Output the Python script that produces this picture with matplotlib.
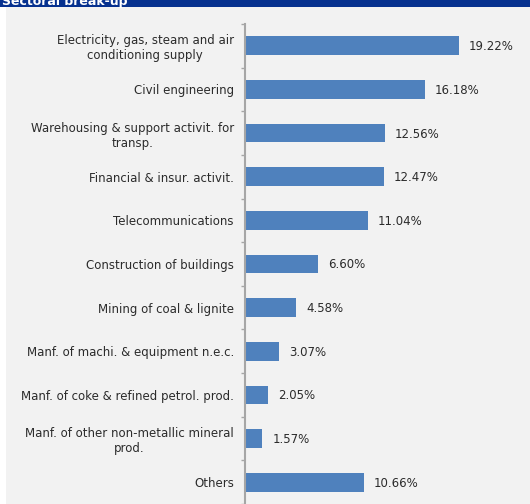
import matplotlib
matplotlib.use("Agg")
import matplotlib.pyplot as plt
from matplotlib.patches import Rectangle

sectors = [
    "Electricity, gas, steam and air\nconditioning supply",
    "Civil engineering",
    "Warehousing & support activit. for\ntransp.",
    "Financial & insur. activit.",
    "Telecommunications",
    "Construction of buildings",
    "Mining of coal & lignite",
    "Manf. of machi. & equipment n.e.c.",
    "Manf. of coke & refined petrol. prod.",
    "Manf. of other non-metallic mineral\nprod.",
    "Others",
]
shares = [19.22, 16.18, 12.56, 12.47, 11.04, 6.60, 4.58, 3.07, 2.05, 1.57, 10.66]

BG = "#f2f2f2"
BAR = "#4f81bd"
TXT = "#2b2b2b"
HEADER = "#06318f"
FS = 8.5

W, H = 530, 504
fig = plt.figure(figsize=(W / 100, H / 100), dpi=100)
fig.patch.set_facecolor("white")

# grey panel behind the chart, white margin on the left
fig.add_artist(Rectangle((6 / W, 0), 1 - 6 / W, 1, transform=fig.transFigure,
                         facecolor=BG, edgecolor="none", zorder=0))
# title band, mostly cropped at the top
fig.add_artist(Rectangle((0, 1 - 7 / H), 1, 7 / H, transform=fig.transFigure,
                         facecolor=HEADER, edgecolor="none", zorder=1))
fig.text(2 / W, 1 - 4.5 / H, "Sectoral break-up", color="white", fontsize=9,
         fontweight="bold", ha="left", va="baseline", zorder=2)

left = 245 / W
top = 24 / H
ax = fig.add_axes([left, 0, 1 - left, 1 - top])
ax.set_facecolor("none")

y = list(range(len(sectors)))
ax.barh(y, shares, height=0.43, color=BAR, zorder=2)
for yi, v in zip(y, shares):
    ax.annotate(f"{v:.2f}%", (v, yi), xytext=(10, -1), textcoords="offset pixels",
                ha="left", va="center", fontsize=FS, color=TXT)

ax.set_xlim(0, 25.6)
ax.set_ylim(10.42, -0.5)
ax.set_yticks(y)
ax.set_yticklabels(sectors, fontsize=FS, color=TXT, multialignment="center")
ax.set_yticks([i - 0.5 for i in range(len(sectors) + 1)], minor=True)
ax.tick_params(axis="y", which="major", length=0, pad=8)
ax.tick_params(axis="y", which="minor", length=3, color="#a6a6a6", width=1)
ax.set_xticks([])
for s in ["top", "right", "bottom"]:
    ax.spines[s].set_visible(False)
ax.spines["left"].set_color("#a6a6a6")
ax.spines["left"].set_linewidth(1.5)

fig.savefig("out.png", dpi=100, facecolor=fig.get_facecolor())
